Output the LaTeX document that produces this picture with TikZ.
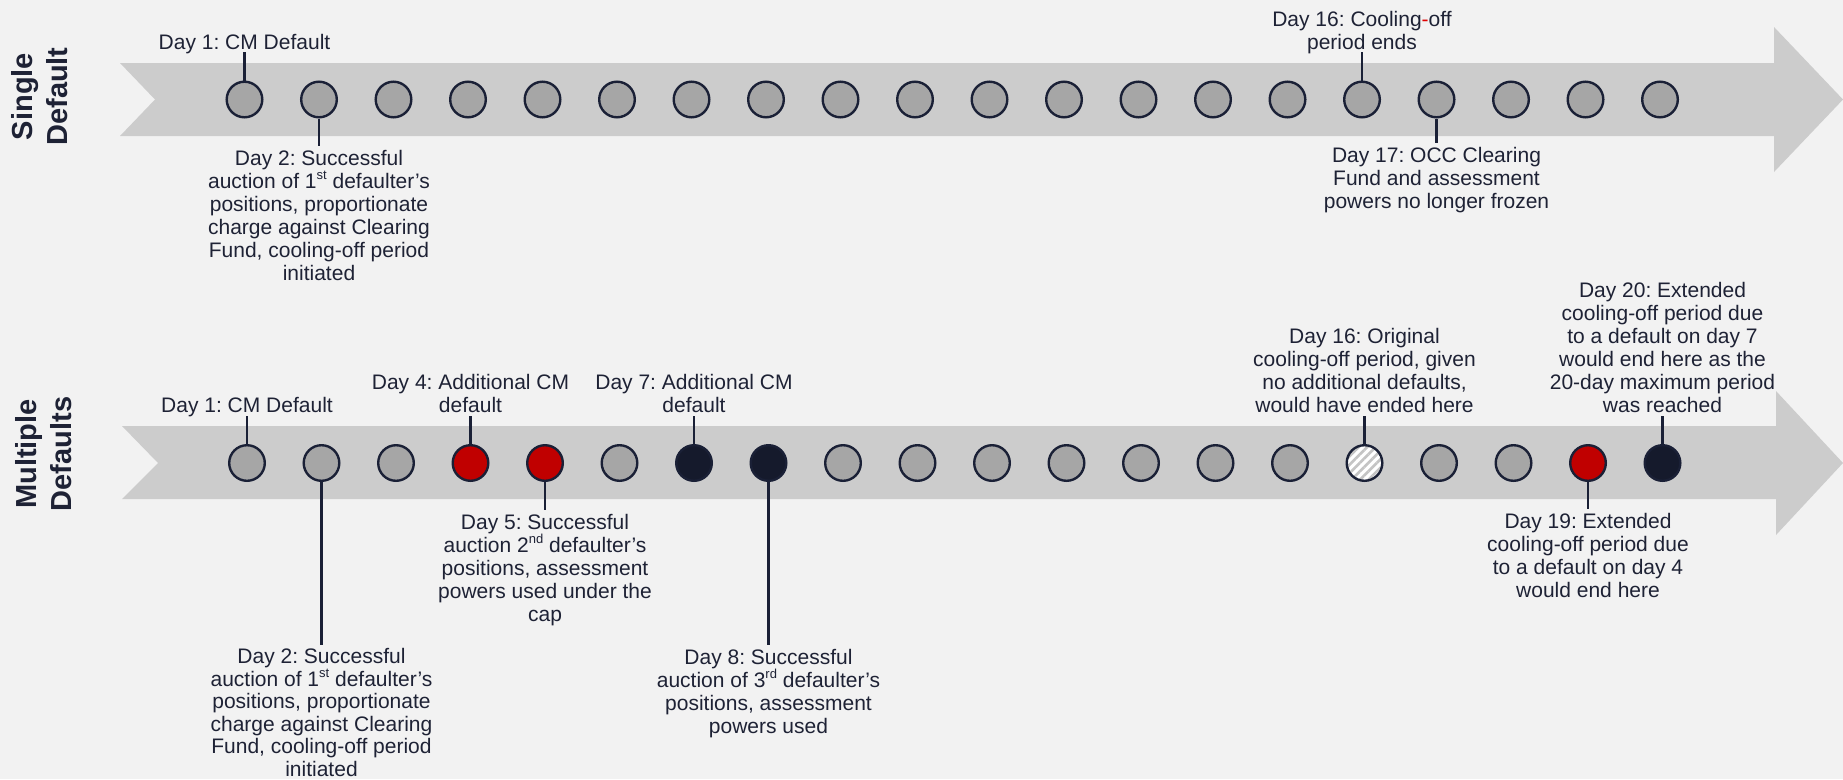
\documentclass[tikz,border=0pt]{standalone}
\usepackage{fontspec}
\setmainfont{Liberation Sans}
\usetikzlibrary{patterns.meta}
\frenchspacing
\definecolor{bg}{HTML}{F2F2F2}
\definecolor{band}{HTML}{CCCCCC}
\definecolor{dotgray}{HTML}{A6A6A6}
\definecolor{dotred}{HTML}{C00000}
\definecolor{navy}{HTML}{151A2C}
\definecolor{edge}{HTML}{1A2036}
\definecolor{txt}{HTML}{1E2235}
\definecolor{hatch}{HTML}{C4C4C4}
\definecolor{hyph}{HTML}{E00000}
\newcommand{\supx}[1]{\raisebox{0.42em}{\fontsize{13}{13}\selectfont #1}}
\tikzset{
  dotbase/.style={circle, minimum size=35.6pt, inner sep=0pt, line width=2.4pt, draw=edge},
  graydot/.style={dotbase, fill=dotgray},
  reddot/.style={dotbase, fill=dotred},
  darkdot/.style={dotbase, fill=navy},
  hatchdot/.style={dotbase, preaction={fill=white}, pattern={Lines[angle=45,distance=6pt,line width=2.6pt]}, pattern color=hatch},
  leader/.style={draw=edge, line width=2.4pt},
  lbl/.style={align=center, inner sep=0pt, text=txt, font=\fontsize{21}{23}\selectfont},
  lbltight/.style={lbl, font=\fontsize{21}{22.6}\selectfont},
  side/.style={align=center, inner sep=0pt, text=txt, rotate=90, font=\fontsize{29}{35}\selectfont\bfseries},
  bandfill/.style={fill=band}
}
\begin{document}
\begin{tikzpicture}[x=1pt,y=-1pt]
\useasboundingbox (0,0) rectangle (1843,779);
\fill[bg] (0,0) rectangle (1843,779);

% bands
\fill[bandfill] (120,63) -- (1774,63) -- (1774,27) -- (1843,99.5) -- (1774,172) -- (1774,136) -- (120,136) -- (155,99.5) -- cycle;
\fill[bandfill] (122,426) -- (1776,426) -- (1776,391) -- (1843,463) -- (1776,535) -- (1776,499) -- (122,499) -- (158,463) -- cycle;

% side labels
\node[side] (s1) at (40,96.5) {Single\\Default};
\node[side] (s2) at (43.5,454) {Multiple\\Defaults};

% circles
\foreach \i in {1,...,20}
  \node[graydot] (t\i) at ({244.5+74.5*(\i-1)},99.5) {};
\foreach \i/\s in {1/graydot,2/graydot,3/graydot,4/reddot,5/reddot,6/graydot,7/darkdot,8/darkdot,9/graydot,10/graydot,11/graydot,12/graydot,13/graydot,14/graydot,15/graydot,16/hatchdot,17/graydot,18/graydot,19/reddot,20/darkdot}
  \node[\s] (b\i) at ({247+74.5*(\i-1)},463) {};

% top row labels
\node[lbl, anchor=north] (tl1) at (244.5,34) {Day 1: CM Default};
\coordinate (te1) at (244.5,52);
\draw[leader] (t1.north) -- (te1);

\node[lbl, anchor=north] (tl2) at (319,150) {Day 2: Successful\\auction of 1\supx{st} defaulter’s\\positions, proportionate\\charge against Clearing\\Fund, cooling-off period\\initiated};
\coordinate (te2) at (319,146);
\draw[leader] (t2.south) -- (te2);

\node[lbl, anchor=north] (tl16) at (1362,11) {Day 16: Cooling\textcolor{hyph}{-}off\\period ends};
\coordinate (te16) at (1362,52);
\draw[leader] (t16.north) -- (te16);

\node[lbl, anchor=north] (tl17) at (1436.5,147) {Day 17: OCC Clearing\\Fund and assessment\\powers no longer frozen};
\coordinate (te17) at (1436.5,143);
\draw[leader] (t17.south) -- (te17);

% bottom row labels
\node[lbl, anchor=north] (bl1) at (247,397) {Day 1: CM Default};
\coordinate (be1) at (247,416);
\draw[leader] (b1.north) -- (be1);

\node[lbltight, anchor=north] (bl2) at (321.5,648) {Day 2: Successful\\auction of 1\supx{st} defaulter’s\\positions, proportionate\\charge against Clearing\\Fund, cooling-off period\\initiated};
\coordinate (be2) at (321.5,645);
\draw[leader] (b2.south) -- (be2);

\node[lbl, anchor=north] (bl4) at (470.5,374) {Day 4: Additional CM\\default};
\coordinate (be4) at (470.5,416);
\draw[leader] (b4.north) -- (be4);

\node[lbl, anchor=north] (bl5) at (545,514) {Day 5: Successful\\auction 2\supx{nd} defaulter’s\\positions, assessment\\powers used under the\\cap};
\coordinate (be5) at (545,510);
\draw[leader] (b5.south) -- (be5);

\node[lbl, anchor=north] (bl7) at (694,374) {Day 7: Additional CM\\default};
\coordinate (be7) at (694,416);
\draw[leader] (b7.north) -- (be7);

\node[lbl, anchor=north] (bl8) at (768.5,649) {Day 8: Successful\\auction of 3\supx{rd} defaulter’s\\positions, assessment\\powers used};
\coordinate (be8) at (768.5,645);
\draw[leader] (b8.south) -- (be8);

\node[lbl, anchor=north] (bl16) at (1364.5,328) {Day 16: Original\\cooling-off period, given\\no additional defaults,\\would have ended here};
\coordinate (be16) at (1364.5,416);
\draw[leader] (b16.north) -- (be16);

\node[lbl, anchor=north] (bl19) at (1588,513) {Day 19: Extended\\cooling-off period due\\to a default on day 4\\would end here};
\coordinate (be19) at (1588,509);
\draw[leader] (b19.south) -- (be19);

\node[lbl, anchor=north] (bl20) at (1662.5,282) {Day 20: Extended\\cooling-off period due\\to a default on day 7\\would end here as the\\20-day maximum period\\was reached};
\coordinate (be20) at (1662.5,416);
\draw[leader] (b20.north) -- (be20);
\end{tikzpicture}
\end{document}
